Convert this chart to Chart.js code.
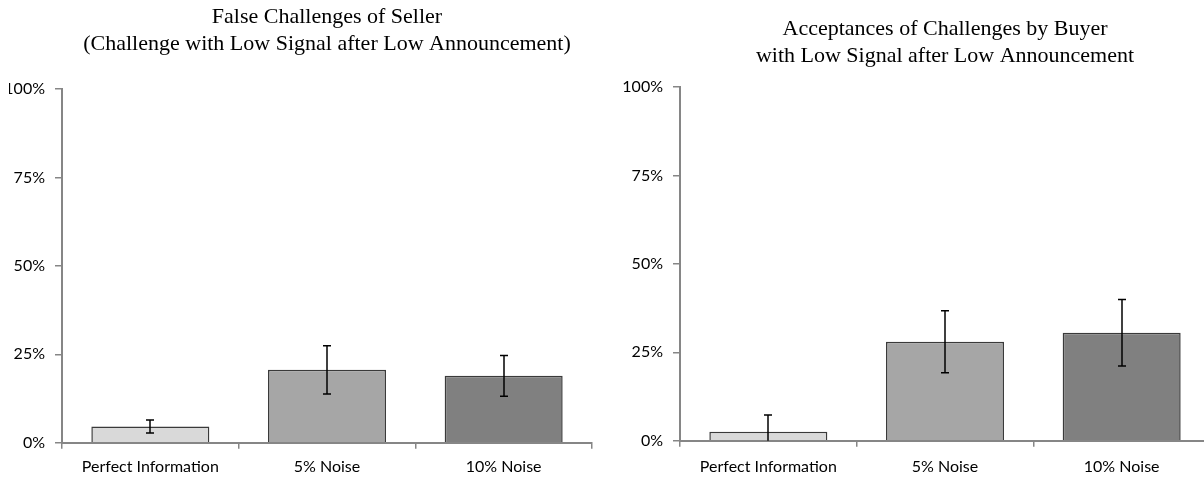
<!DOCTYPE html>
<html><head><meta charset="utf-8">
<script src="https://cdn.jsdelivr.net/npm/chart.js@4.4.0/dist/chart.umd.min.js"></script>
<style>
html,body{margin:0;padding:0;background:#fff;overflow:hidden;width:1204px;height:477px;}
#wrap{position:relative;width:1204px;height:477px;overflow:hidden;background:#fff;}
.box{position:absolute;top:0;height:477px;}
#b1{left:9px;width:591px;}
#b2{left:600px;width:620px;}
</style></head><body>
<div id="wrap">
<div class="box" id="b1"><canvas id="c1" width="591" height="477"></canvas></div>
<div class="box" id="b2"><canvas id="c2" width="620" height="477"></canvas></div>
</div>
<script>
// ---- data ----
const categories = ['Perfect Information', '5% Noise', '10% Noise'];
const sellerFalseChallenges = [4.6, 20.6, 18.9];
const sellerErrors = [1.85, 6.85, 5.75];
const buyerAcceptances = [2.5, 28.0, 30.5];
const buyerErrors = [4.8, 8.75, 9.4];
const yTickValues = [0, 25, 50, 75, 100];
const barColors = ['#d9d9d9', '#a6a6a6', '#808080'];
const title1 = ['False Challenges of Seller', '(Challenge with Low Signal after Low Announcement)'];
const title2 = ['Acceptances of Challenges by Buyer', 'with Low Signal after Low Announcement'];

const AXIS = '#868686';
const LABEL_FONT = { family: 'Lato', size: 16 };

const errorBarPlugin = {
  id: 'errorBars',
  afterDatasetsDraw(chart, args, opts) {
    const { ctx, chartArea } = chart;
    const meta = chart.getDatasetMeta(0);
    const ys = chart.scales.y;
    const vals = chart.data.datasets[0].data;
    const errs = opts.errors || [];
    const cap = 4;
    ctx.save();
    ctx.beginPath();
    ctx.rect(chartArea.left, chartArea.top, chartArea.right - chartArea.left, chartArea.bottom - chartArea.top);
    ctx.clip();
    ctx.strokeStyle = '#000';
    ctx.lineWidth = 1.5;
    meta.data.forEach((bar, i) => {
      const e = errs[i];
      if (e == null) return;
      const x = Math.round(bar.x);
      const yHi = ys.getPixelForValue(vals[i] + e);
      const yLo = ys.getPixelForValue(vals[i] - e);
      ctx.beginPath();
      ctx.moveTo(x, yHi); ctx.lineTo(x, yLo);
      ctx.moveTo(x - cap, yHi); ctx.lineTo(x + cap, yHi);
      ctx.moveTo(x - cap, yLo); ctx.lineTo(x + cap, yLo);
      ctx.stroke();
    });
    ctx.restore();
  }
};

function makeChart(id, values, errors, titleLines, cfg) {
  return new Chart(document.getElementById(id), {
    type: 'bar',
    data: {
      labels: categories,
      datasets: [{
        data: values,
        backgroundColor: barColors,
        borderColor: '#3a3a3a',
        borderWidth: 1.5,
        barPercentage: 0.668,
        categoryPercentage: 1
      }]
    },
    plugins: [errorBarPlugin],
    options: {
      responsive: false,
      animation: false,
      devicePixelRatio: 1,
      layout: { padding: { left: 0, right: cfg.padRight, top: 0, bottom: 0 } },
      plugins: {
        legend: { display: false },
        tooltip: { enabled: false },
        errorBars: { errors: errors },
        title: {
          display: true,
          fullSize: false,
          text: titleLines,
          color: '#000',
          font: { family: 'Liberation Serif', size: 22, weight: 'normal', lineHeight: 1.23 },
          padding: { top: cfg.titleTop, bottom: cfg.titleBottom }
        }
      },
      scales: {
        x: {
          z: 1,
          grid: { offset: true, drawOnChartArea: false, drawTicks: true, tickLength: 6, color: AXIS, lineWidth: 1.5 },
          border: { display: true, color: AXIS, width: 2 },
          ticks: { color: '#000', font: LABEL_FONT, maxRotation: 0, autoSkip: false, padding: cfg.xPad },
          afterFit: s => { s.height = cfg.xHeight; }
        },
        y: {
          min: 0, max: 100,
          afterBuildTicks: s => { s.ticks = yTickValues.map(v => ({ value: v })); },
          grid: { drawOnChartArea: false, drawTicks: true, tickLength: 7, color: AXIS, lineWidth: 1.5 },
          border: { display: true, color: AXIS, width: 2 },
          ticks: { color: '#000', font: LABEL_FONT, padding: 10, callback: v => v + '%' },
          afterFit: s => { s.width = cfg.yWidth; }
        }
      }
    }
  });
}

makeChart('c1', sellerFalseChallenges, sellerErrors, title1,
  { padRight: 8, yWidth: 53, xHeight: 34.3, xPad: 9, titleTop: 4, titleBottom: 31 });
makeChart('c2', buyerAcceptances, buyerErrors, title2,
  { padRight: 10, yWidth: 80, xHeight: 36.3, xPad: 11, titleTop: 16, titleBottom: 17 });
</script>
</body></html>
